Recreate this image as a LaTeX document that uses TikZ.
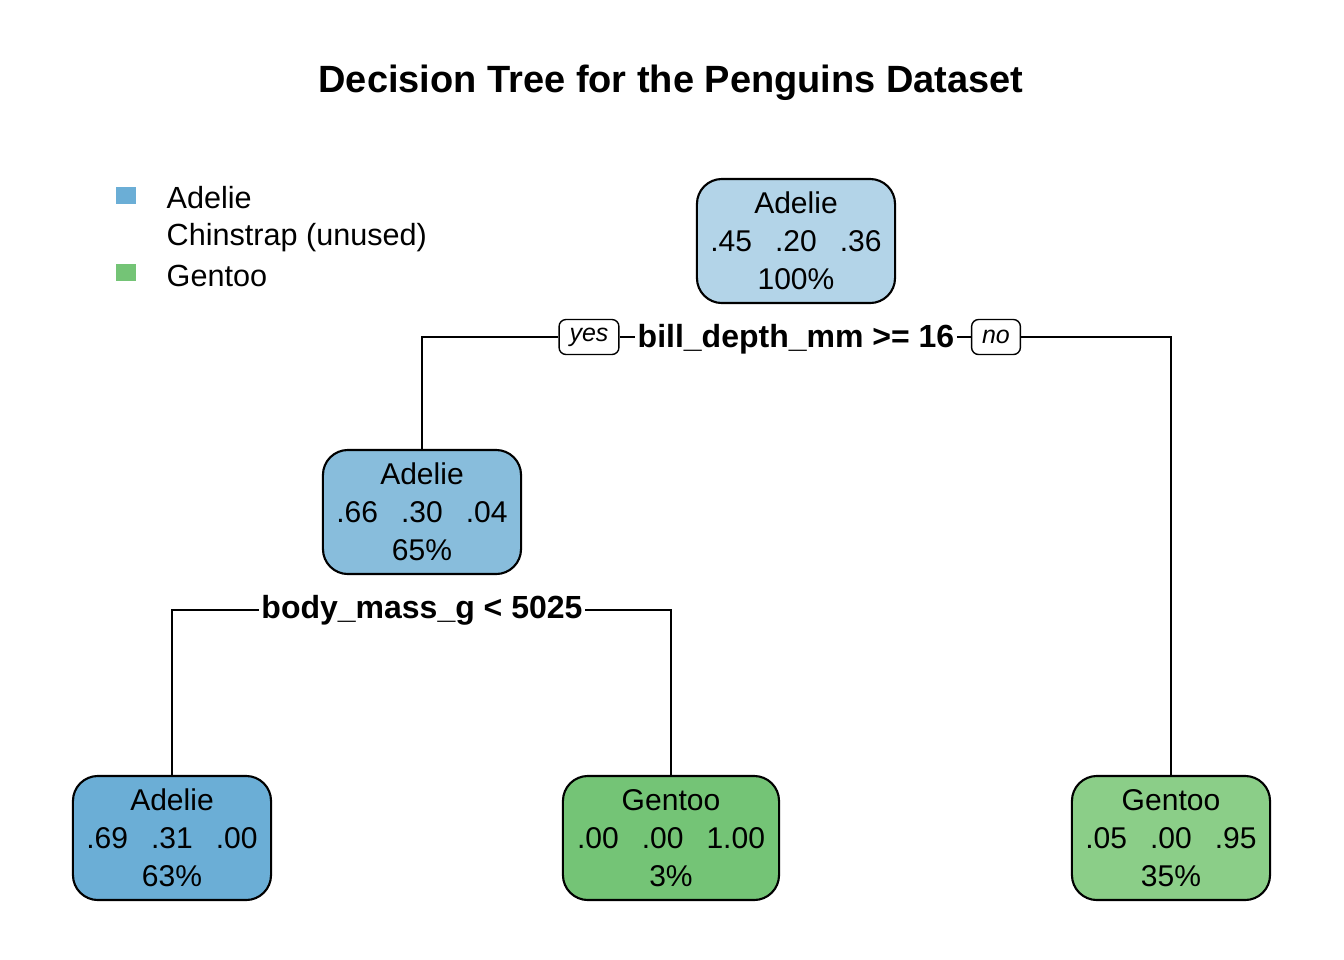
\documentclass[tikz,border=0pt]{standalone}
\usepackage{fontspec}
\setmainfont{Liberation Sans}
\definecolor{rootblue}{HTML}{B3D4E8}
\definecolor{midblue}{HTML}{88BDDC}
\definecolor{adelieblue}{HTML}{6BAED6}
\definecolor{gentoogreen}{HTML}{74C476}
\definecolor{lightgreen}{HTML}{8BCE88}
\newcommand{\pgap}{\hspace{0.23cm}}
\begin{document}
\begin{tikzpicture}[x=0.01cm,y=-0.01cm,
    treenode/.style={draw=black,line width=0.6pt,rounded corners=0.25cm,
      minimum width=1.98cm,minimum height=1.24cm,inner sep=0pt,align=center,
      font=\fontsize{8.54}{10.8}\selectfont},
    splitlabel/.style={inner sep=0.5pt,font=\fontsize{9.1}{11}\selectfont\bfseries},
    yesno/.style={draw=black,line width=0.4pt,rounded corners=2pt,inner xsep=0.105cm,
      inner ysep=0pt,minimum height=0.35cm,font=\fontsize{7.1}{8}\selectfont\itshape},
    legendtext/.style={anchor=west,inner sep=0pt,font=\fontsize{8.7}{10.8}\selectfont},
    edge/.style={line width=0.4pt}]

    % Page
    \useasboundingbox[fill=white] (0,0) rectangle (1344,960);

    % Title
    \node[font=\fontsize{10.8}{13}\selectfont\bfseries] (title) at (671,83)
      {Decision Tree for the Penguins Dataset};

    % Legend
    \fill[adelieblue]  (116,187) rectangle (136,204);
    \fill[gentoogreen] (116,264) rectangle (136,281);
    \node[legendtext] (legA) at (166,198) {Adelie};
    \node[legendtext] (legC) at (166,238) {Chinstrap (unused)};
    \node[legendtext] (legG) at (166,276) {Gentoo};

    % Tree nodes
    \node[treenode,fill=rootblue] (root) at (796,241)
      {\rule{0pt}{0.05cm}Adelie\\.45\pgap.20\pgap.36\\100\%};
    \node[treenode,fill=midblue] (mid) at (422,512)
      {\rule{0pt}{0.05cm}Adelie\\.66\pgap.30\pgap.04\\65\%};
    \node[treenode,fill=adelieblue] (leafA) at (172,838)
      {\rule{0pt}{0.05cm}Adelie\\.69\pgap.31\pgap.00\\63\%};
    \node[treenode,fill=gentoogreen,minimum width=2.16cm] (leafB) at (671,838)
      {\rule{0pt}{0.05cm}Gentoo\\.00\pgap.00\pgap1.00\\3\%};
    \node[treenode,fill=lightgreen] (leafC) at (1171,838)
      {\rule{0pt}{0.05cm}Gentoo\\.05\pgap.00\pgap.95\\35\%};

    % Split labels
    \node[splitlabel] (split1) at (796,339) {bill\_depth\_mm >= 16};
    \node[yesno] (yes) at (589,337) {\raisebox{-0.02cm}{yes}};
    \node[yesno] (no) at (996,337) {\raisebox{-0.02cm}{no}};
    \node[splitlabel] (split2) at (422,610) {body\_mass\_g < 5025};

    % Connectors
    \draw[edge] (yes.east) -- (yes.east -| split1.west);
    \draw[edge] (no.west -| split1.east) -- (no.west);
    \draw[edge] (yes.west) -| (mid.north);
    \draw[edge] (no.east) -| (leafC.north);
    \draw[edge] (split2.west) -| (leafA.north);
    \draw[edge] (split2.east) -| (leafB.north);

\end{tikzpicture}
\end{document}
